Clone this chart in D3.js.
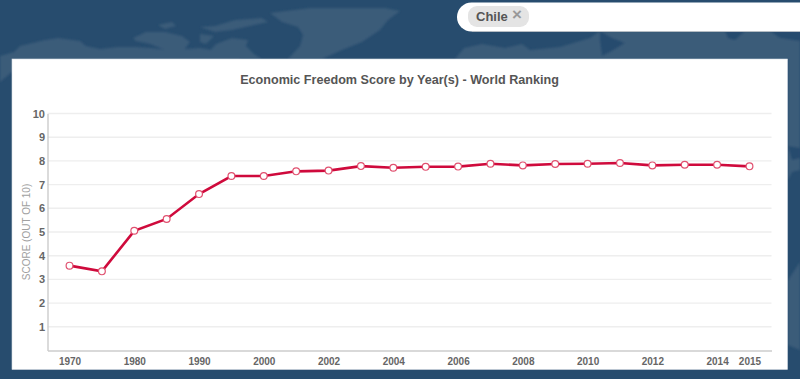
<!DOCTYPE html>
<html>
<head>
<meta charset="utf-8">
<script src="https://cdn.jsdelivr.net/npm/d3@7"></script>
<style>
html, body { margin: 0; padding: 0; background: #274c6e; overflow: hidden; }
text { font-family: "Liberation Sans", Arial, sans-serif; }
</style>
</head>
<body>
<div id="chart"></div>
<script>
// values
const years = ["1970","1975","1980","1985","1990","1995","2000","2001","2002","2003","2004","2005","2006","2007","2008","2009","2010","2011","2012","2013","2014","2015"];
const scores = [3.58,3.34,5.05,5.55,6.6,7.36,7.36,7.56,7.59,7.78,7.71,7.75,7.76,7.88,7.81,7.87,7.88,7.91,7.81,7.84,7.84,7.77];
const yearLabels = ["1970","1980","1990","2000","2002","2004","2006","2008","2010","2012","2014","2015"];
const scoreTicks = [1,2,3,4,5,6,7,8,9,10];

// rough outlines of the land on the page background map
const land = [
  "M0,56L14,52L20,46L45,40L58,38L80,41L86,46L100,49L118,47L135,47L150,48L170,50L200,48L230,53L240,59L240,72L12,72L0,82Z",
  "M133,38L146,32L165,32L182,36L190,42L184,50L165,50L150,44L136,41Z",
  "M158,25L172,22L176,26L165,29Z",
  "M200,27L215,26L235,20L262,18L268,22L250,26L232,30L215,32Z",
  "M200,34L214,36L206,44L200,42Z",
  "M205,56L216,44L232,38L248,40L246,46L254,54L262,59L205,59Z",
  "M270,13L310,8L385,8L400,11L388,20L380,30L362,42L342,50L322,59L288,59L300,46L303,35L298,27L282,22Z",
  "M455,59L464,48L482,44L505,48L522,44L530,50L560,47L590,38L600,31L800,31L800,170L792,172L788,180L788,59Z",
  "M788,280L800,262L800,350L788,345Z"
];
const water = [
  "M600,31L612,38L625,43L610,52L602,56L600,40Z",
  "M725,31L745,31L735,40L728,38Z",
  "M770,31L800,31L800,41L780,38Z",
  "M788,146L800,148L800,158L792,160Z"
];

const width = 800, height = 379;
const margin = {top: 113.5, right: 28.5, bottom: 28.5, left: 47.5};

const svg = d3.select("#chart").append("svg")
  .attr("width", width)
  .attr("height", height)
  .style("display", "block");

svg.append("defs").append("filter")
  .attr("id", "soft")
  .append("feGaussianBlur")
  .attr("stdDeviation", 1);

// background map
const map = svg.append("g").attr("filter", "url(#soft)");
map.append("g").selectAll("path").data(land).enter().append("path")
  .attr("d", d => d)
  .attr("fill", "#3b5c79");
map.append("g").selectAll("path").data(water).enter().append("path")
  .attr("d", d => d)
  .attr("fill", "#274c6e");

// search box with the selected country
svg.append("path")
  .attr("d", "M800,2.5H471.5A14.5,14.5 0 0 0 471.5,31.5H800Z")
  .attr("fill", "#fff");
svg.append("line")
  .attr("x1", 472).attr("x2", 800).attr("y1", 31.5).attr("y2", 31.5)
  .attr("stroke", "#b5bcc3");
svg.append("rect")
  .attr("x", 468).attr("y", 6).attr("width", 61).attr("height", 21).attr("rx", 9)
  .attr("fill", "#e4e4e4");
svg.append("text")
  .attr("x", 476).attr("y", 21)
  .attr("font-size", "13px").attr("font-weight", "bold").attr("fill", "#555")
  .text("Chile");
svg.append("text")
  .attr("x", 512).attr("y", 19.5)
  .attr("font-size", "17px").attr("font-weight", "bold").attr("fill", "#999")
  .text("×");

// card
svg.append("rect")
  .attr("x", 12).attr("y", 59).attr("width", 775.5).attr("height", 310.5)
  .attr("fill", "#fff").attr("stroke", "#d6dde4").attr("stroke-width", 0.6);

svg.append("text")
  .attr("x", 399.5).attr("y", 84)
  .attr("text-anchor", "middle")
  .attr("font-size", "12.6px").attr("font-weight", "bold").attr("fill", "#555")
  .text("Economic Freedom Score by Year(s) - World Ranking");

const x = d3.scalePoint()
  .domain(years)
  .range([margin.left, width - margin.right])
  .padding(0.68);

const y = d3.scaleLinear()
  .domain([0, 10])
  .range([height - margin.bottom, margin.top]);

// horizontal grid
svg.append("g")
  .selectAll("line").data(scoreTicks).enter().append("line")
  .attr("x1", margin.left)
  .attr("x2", width - margin.right)
  .attr("y1", d => y(d))
  .attr("y2", d => y(d))
  .attr("stroke", "#eeeeee")
  .attr("stroke-width", 1.4);

// axes
const yAxis = svg.append("g")
  .attr("transform", "translate(" + margin.left + ",0)")
  .call(d3.axisLeft(y).tickValues(scoreTicks).tickSize(0).tickPadding(2.5));
yAxis.select(".domain")
  .attr("stroke", "#cccccc").attr("stroke-width", 1.4);
yAxis.selectAll("text")
  .attr("font-size", "11px").attr("font-weight", "bold").attr("fill", "#666");

const xAxis = svg.append("g")
  .attr("transform", "translate(0," + (height - margin.bottom) + ")")
  .call(d3.axisBottom(x).tickValues(yearLabels).tickSize(0).tickPadding(7));
xAxis.select(".domain")
  .attr("stroke", "#cccccc").attr("stroke-width", 1.4);
xAxis.selectAll("text")
  .attr("font-size", "10px").attr("font-weight", "bold").attr("fill", "#666");

svg.append("text")
  .attr("transform", "translate(30,232) rotate(-90)")
  .attr("text-anchor", "middle")
  .attr("font-size", "10px").attr("fill", "#a0a0a0")
  .text("SCORE (OUT OF 10)");

// the line and its points
const line = d3.line()
  .x((d, i) => x(years[i]))
  .y(d => y(d));

svg.append("path")
  .datum(scores)
  .attr("d", line)
  .attr("fill", "none")
  .attr("stroke", "#cf0a3c")
  .attr("stroke-width", 2.6);

svg.append("g")
  .selectAll("circle").data(scores).enter().append("circle")
  .attr("cx", (d, i) => x(years[i]))
  .attr("cy", d => y(d))
  .attr("r", 3.4)
  .attr("fill", "#fff")
  .attr("stroke", "#e0506f")
  .attr("stroke-width", 1.2);
</script>
</body>
</html>
